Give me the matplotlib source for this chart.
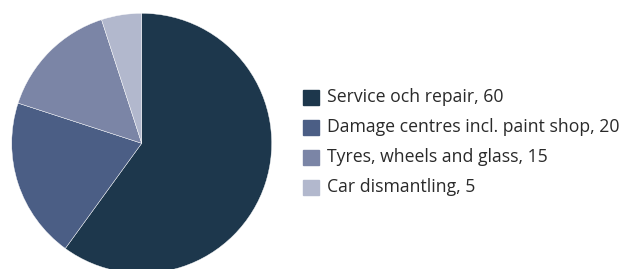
import matplotlib
matplotlib.use("Agg")
import matplotlib.pyplot as plt
from matplotlib.patches import Rectangle

categories = ["Service och repair", "Damage centres incl. paint shop",
              "Tyres, wheels and glass", "Car dismantling"]
values = [60, 20, 15, 5]
colors = ["#1d374c", "#4b5e85", "#7b85a6", "#b2b8cd"]

W, H = 630, 269
fig = plt.figure(figsize=(W / 100, H / 100), dpi=100)

# pie: centre (141.7, 143.3) px from top-left, radius 130 px
cx, cy, r = 141.7, 143.3, 130
ax = fig.add_axes([(cx - r) / W, (H - cy - r) / H, 2 * r / W, 2 * r / H])
ax.pie(values, colors=colors, startangle=90, counterclock=False,
       radius=1, wedgeprops=dict(linewidth=0.3, edgecolor="white"))
ax.set_xlim(-1, 1)
ax.set_ylim(-1, 1)
ax.set_aspect("auto")
ax.axis("off")

# legend drawn by hand
for i, (cat, val, col) in enumerate(zip(categories, values, colors)):
    yc = 97.5 + i * 30
    fig.patches.append(Rectangle((303 / W, (H - yc - 7.5) / H), 15.5 / W, 15 / H,
                                 transform=fig.transFigure, color=col))
    fig.text(327 / W, (H - yc) / H, f"{cat}, {val}", fontsize=12.7,
             family="Open Sans", color="#2a2a2a", va="center", ha="left")

fig.savefig("out.png", dpi=100)
